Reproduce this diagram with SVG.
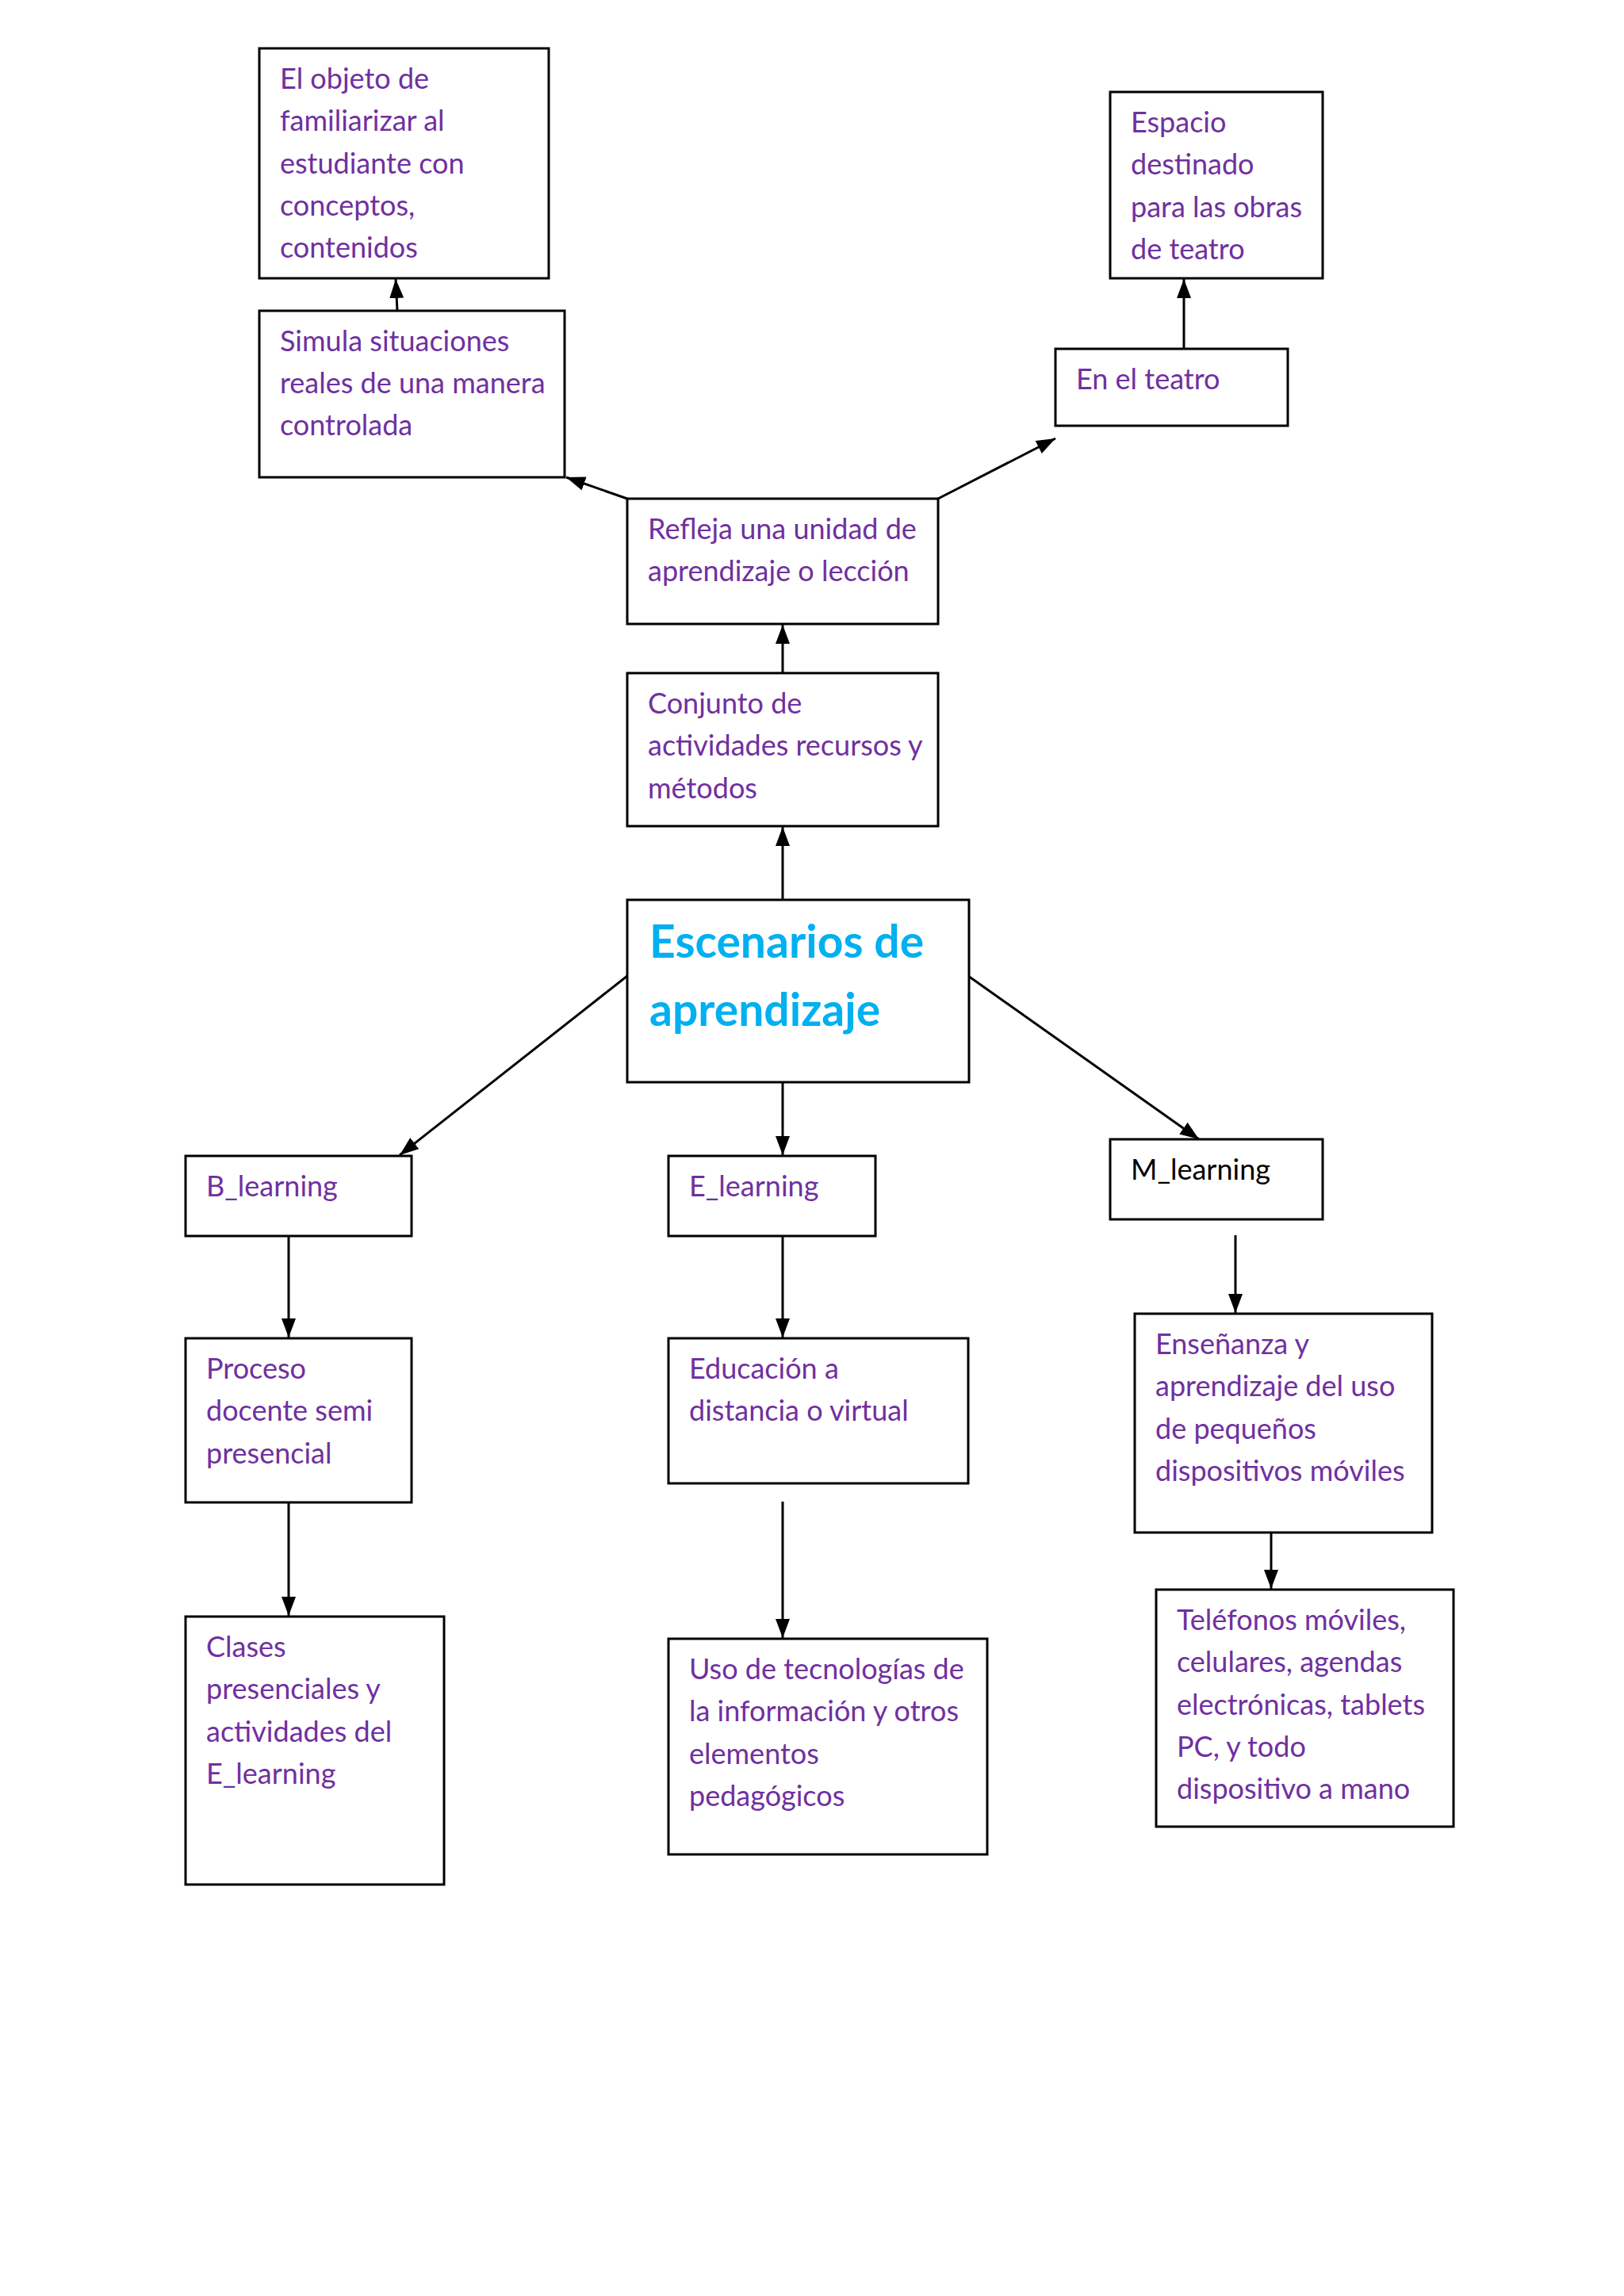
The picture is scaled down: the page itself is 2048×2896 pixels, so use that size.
<svg xmlns="http://www.w3.org/2000/svg" width="2048" height="2896" viewBox="0 0 2048 2896">
<defs>
<marker id="ah" markerUnits="userSpaceOnUse" markerWidth="24" markerHeight="18" refX="24" refY="9" orient="auto">
<path d="M0,0 L24,9 L0,18 z" fill="#000"/>
</marker>
<style>
.box{fill:#fff;stroke:#000;stroke-width:3}
.t{font-family:Lato,"Open Sans","Liberation Sans",sans-serif;font-size:36px;fill:#7030A0}
.k{fill:#000}
.title{font-family:Lato,"Open Sans","Liberation Sans",sans-serif;font-size:57px;font-weight:bold;fill:#00B0F0}
.c{stroke:#000;stroke-width:3;fill:none;marker-end:url(#ah)}
</style>
</defs>
<rect width="2048" height="2896" fill="#fff"/>
<g id="connectors">
<line class="c" x1="501" y1="392" x2="499" y2="352"/>
<line class="c" x1="1493" y1="440" x2="1493" y2="352"/>
<line class="c" x1="791" y1="629" x2="714" y2="602"/>
<line class="c" x1="1183" y1="629" x2="1331" y2="553"/>
<line class="c" x1="987" y1="849" x2="987" y2="788"/>
<line class="c" x1="987" y1="1135" x2="987" y2="1043"/>
<line class="c" x1="791" y1="1231" x2="504" y2="1457"/>
<line class="c" x1="1221" y1="1231" x2="1512" y2="1437"/>
<line class="c" x1="987" y1="1365" x2="987" y2="1457"/>
<line class="c" x1="364" y1="1559" x2="364" y2="1687"/>
<line class="c" x1="364" y1="1895" x2="364" y2="2038"/>
<line class="c" x1="987" y1="1559" x2="987" y2="1687"/>
<line class="c" x1="987" y1="1894" x2="987" y2="2066"/>
<line class="c" x1="1558" y1="1558" x2="1558" y2="1656"/>
<line class="c" x1="1603" y1="1933" x2="1603" y2="2004"/>
</g>
<g id="objeto">
<rect class="box" x="327" y="61" width="365" height="290"/>
<text class="t" x="353" y="112">El objeto de</text>
<text class="t" x="353" y="165">familiarizar al</text>
<text class="t" x="353" y="219">estudiante con</text>
<text class="t" x="353" y="272">conceptos,</text>
<text class="t" x="353" y="325">contenidos</text>
</g>
<g id="espacio">
<rect class="box" x="1400" y="116" width="268" height="235"/>
<text class="t" x="1426" y="167">Espacio</text>
<text class="t" x="1426" y="220">destinado</text>
<text class="t" x="1426" y="274">para las obras</text>
<text class="t" x="1426" y="327">de teatro</text>
</g>
<g id="simula">
<rect class="box" x="327" y="392" width="385" height="210"/>
<text class="t" x="353" y="443">Simula situaciones</text>
<text class="t" x="353" y="496">reales de una manera</text>
<text class="t" x="353" y="549">controlada</text>
</g>
<g id="teatro">
<rect class="box" x="1331" y="440" width="293" height="97"/>
<text class="t" x="1357" y="491">En el teatro</text>
</g>
<g id="refleja">
<rect class="box" x="791" y="629" width="392" height="158"/>
<text class="t" x="817" y="680">Refleja una unidad de</text>
<text class="t" x="817" y="733">aprendizaje o lección</text>
</g>
<g id="conjunto">
<rect class="box" x="791" y="849" width="392" height="193"/>
<text class="t" x="817" y="900">Conjunto de</text>
<text class="t" x="817" y="953">actividades recursos y</text>
<text class="t" x="817" y="1007">métodos</text>
</g>
<g id="central">
<rect class="box" x="791" y="1135" width="431" height="230"/>
<text class="title" x="819" y="1208">Escenarios de</text>
<text class="title" x="819" y="1294">aprendizaje</text>
</g>
<g id="b_learning">
<rect class="box" x="234" y="1458" width="285" height="101"/>
<text class="t" x="260" y="1509">B_learning</text>
</g>
<g id="e_learning">
<rect class="box" x="843" y="1458" width="261" height="101"/>
<text class="t" x="869" y="1509">E_learning</text>
</g>
<g id="m_learning">
<rect class="box" x="1400" y="1437" width="268" height="101"/>
<text class="t k" x="1426" y="1488">M_learning</text>
</g>
<g id="proceso">
<rect class="box" x="234" y="1688" width="285" height="207"/>
<text class="t" x="260" y="1739">Proceso</text>
<text class="t" x="260" y="1792">docente semi</text>
<text class="t" x="260" y="1846">presencial</text>
</g>
<g id="educacion">
<rect class="box" x="843" y="1688" width="378" height="183"/>
<text class="t" x="869" y="1739">Educación a</text>
<text class="t" x="869" y="1792">distancia o virtual</text>
</g>
<g id="ensenanza">
<rect class="box" x="1431" y="1657" width="375" height="276"/>
<text class="t" x="1457" y="1708">Enseñanza y</text>
<text class="t" x="1457" y="1761">aprendizaje del uso</text>
<text class="t" x="1457" y="1815">de pequeños</text>
<text class="t" x="1457" y="1868">dispositivos móviles</text>
</g>
<g id="clases">
<rect class="box" x="234" y="2039" width="326" height="338"/>
<text class="t" x="260" y="2090">Clases</text>
<text class="t" x="260" y="2143">presenciales y</text>
<text class="t" x="260" y="2197">actividades del</text>
<text class="t" x="260" y="2250">E_learning</text>
</g>
<g id="uso">
<rect class="box" x="843" y="2067" width="402" height="272"/>
<text class="t" x="869" y="2118">Uso de tecnologías de</text>
<text class="t" x="869" y="2171">la información y otros</text>
<text class="t" x="869" y="2225">elementos</text>
<text class="t" x="869" y="2278">pedagógicos</text>
</g>
<g id="telefonos">
<rect class="box" x="1458" y="2005" width="375" height="299"/>
<text class="t" x="1484" y="2056">Teléfonos móviles,</text>
<text class="t" x="1484" y="2109">celulares, agendas</text>
<text class="t" x="1484" y="2163">electrónicas, tablets</text>
<text class="t" x="1484" y="2216">PC, y todo</text>
<text class="t" x="1484" y="2269">dispositivo a mano</text>
</g>
</svg>
